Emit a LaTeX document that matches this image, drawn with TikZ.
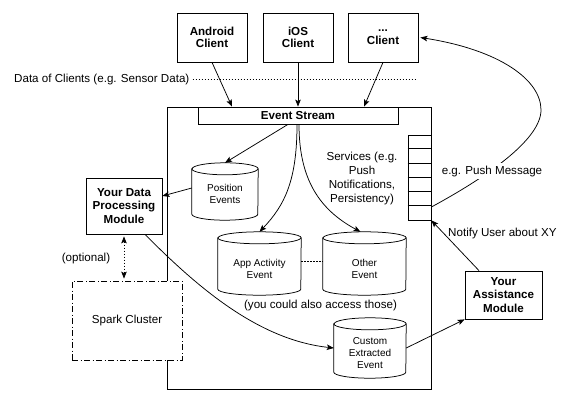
\documentclass[tikz,border=0pt]{standalone}
\usepackage{fontspec}
\setmainfont{Liberation Sans}
\usetikzlibrary{arrows.meta,calc}
\tikzset{
  lw/.style={line width=0.75pt},
  box/.style={draw, lw, fill=white, inner sep=0pt, align=center, font=\bfseries\fontsize{11.6}{13.5}\selectfont},
  txt/.style={font=\fontsize{11.6}{14}\selectfont, inner sep=1pt, align=center},
  small/.style={font=\fontsize{10}{12}\selectfont, align=center, inner sep=0pt},
  arr/.style={lw, -{Stealth[length=7pt,width=5.5pt,inset=1.5pt]}},
  cylline/.style={draw, lw, fill=white},
}
\newcommand\mycyl[5]{% name, cx, cy, w, h
  \node[inner sep=0pt, minimum width=#4pt, minimum height=#5pt] (#1) at (#2,#3) {};
  \draw[cylline] ([yshift=-6pt]#1.north west) -- ([yshift=6pt]#1.south west)
    arc[start angle=180, end angle=360, x radius=#4pt/2, y radius=6pt]
    -- ([yshift=-6pt]#1.north east)
    arc[start angle=0, end angle=180, x radius=#4pt/2, y radius=6pt] -- cycle;
  \draw[lw] ([yshift=-6pt]#1.north west)
    arc[start angle=180, end angle=360, x radius=#4pt/2, y radius=6pt];
}
\begin{document}
\begin{tikzpicture}[x=1pt,y=1pt]
\useasboundingbox (0,0) rectangle (576,-402);
\fill[white] (0,0) rectangle (576,-402);

% clients
\node[box, minimum width=70pt, minimum height=49pt, font=\bfseries\fontsize{11.6}{12.7}\selectfont] (and) at (212,-37.5) {Android\\Client};
\node[box, minimum width=70pt, minimum height=49pt, font=\bfseries\fontsize{11.6}{12.7}\selectfont] (ios) at (298,-37.5) {iOS\\Client};
\node[box, minimum width=70pt, minimum height=49pt, font=\bfseries\fontsize{11.6}{12.7}\selectfont] (cli) at (383,-37.5) {...\\Client};

% data of clients
\node[txt, anchor=west, inner sep=0pt] (datal) at (14,-79) {Data of Clients (e.g. Sensor Data)};
\coordinate (dotend) at (417,-79);
\draw[lw, dash pattern=on 1.5pt off 1.5pt] ([xshift=3pt]datal.east) -- (dotend);

% main box
\node[draw, lw, fill=white, minimum width=264pt, minimum height=282pt, inner sep=0pt] (main) at (299,-248) {};
\node[box, minimum width=200pt, minimum height=17pt] (es) at (298,-115.5) {Event Stream};

% services stack
\node[draw, lw, fill=white, minimum width=23pt, minimum height=85pt, inner sep=0pt] (svc) at (419.5,-177.5) {};
\foreach \i in {1,...,5}{
  \draw[lw] ([yshift=-\i*14.1667pt]svc.north west) -- ([yshift=-\i*14.1667pt]svc.north east);
}
\node[txt] (svct) at (362,-178) {Services (e.g.\\Push\\Notifications,\\Persistency)};

% cylinders
\mycyl{pos}{225}{-191.5}{66}{57}
\node[small] (post) at (225,-194) {Position\\Events};
\mycyl{app}{259.5}{-263.5}{83}{63}
\node[small] (appt) at (259.5,-268.5) {App Activity\\Event};
\mycyl{oth}{364.5}{-263.5}{83}{63}
\node[small] (otht) at (364.5,-268.5) {Other\\Event};
\mycyl{cus}{370}{-348}{72}{60}
\node[small] (cust) at (370,-353.5) {Custom\\Extracted\\Event};

\draw[lw, dash pattern=on 1.5pt off 1.5pt] ([yshift=2pt]app.east) -- ([yshift=2pt]oth.west);
\node[txt] (acc) at (320.5,-305) {(you could also access those)};

% left side
\node[box, minimum width=76pt, minimum height=56pt] (dp) at (124,-206) {Your Data\\Processing\\Module};
\node[draw, lw, fill=white, dash pattern=on 6pt off 2.5pt on 1pt off 2.5pt, minimum width=110pt, minimum height=79pt, txt] (spark) at (127,-320.5) {Spark Cluster};
\draw[lw, dash pattern=on 1.5pt off 1.5pt, {Stealth[length=7pt,width=5.5pt,inset=1.5pt]}-{Stealth[length=7pt,width=5.5pt,inset=1.5pt]}] ([yshift=-2pt]dp.south) -- ([yshift=2pt]dp.south |- spark.north);
\node[txt] (opt) at (86,-258) {(optional)};

% right side
\node[box, minimum width=77pt, minimum height=48pt] (am) at (503.5,-295) {Your\\Assistance\\Module};
\node[txt, anchor=west, inner sep=0pt] (notify) at (448,-233) {Notify User about XY};

% arrows from clients
\draw[arr] (and.south) -- ([xshift=-66pt]es.north);
\draw[arr] (ios.south) -- (es.north);
\draw[arr] (cli.south) -- ([xshift=66pt]es.north);

% event stream out
\draw[arr] ([xshift=-10pt]es.south) -- (pos.north);
\draw[arr] ([xshift=-1pt]es.south) .. controls (297,-180) and (285,-205) .. (app.north);
\draw[arr] ([xshift=1pt]es.south) .. controls (299,-180) and (320,-210) .. ([xshift=-4pt]oth.north);

% position -> dp
\draw[arr] ([yshift=3.5pt]pos.west) -- ([yshift=10pt]dp.east);
% dp -> custom
\draw[arr] ([xshift=21pt]dp.south) .. controls (200,-290) and (260,-340) .. (cus.west);
% custom -> assistance
\draw[arr] (cus.east) -- (am.south west);
% assistance -> services
\draw[arr] ([xshift=-24.5pt]am.north) -- (svc.south east);
% push message
\draw[arr] ([yshift=-29.5pt]svc.east) .. controls (485,-178) and (541,-140) .. (541,-110)
  .. controls (541,-80) and (500,-50) .. ([xshift=2pt]cli.east);
\node[txt, fill=white, inner sep=3pt] (push) at (492,-171) {e.g. Push Message};
\end{tikzpicture}
\end{document}
